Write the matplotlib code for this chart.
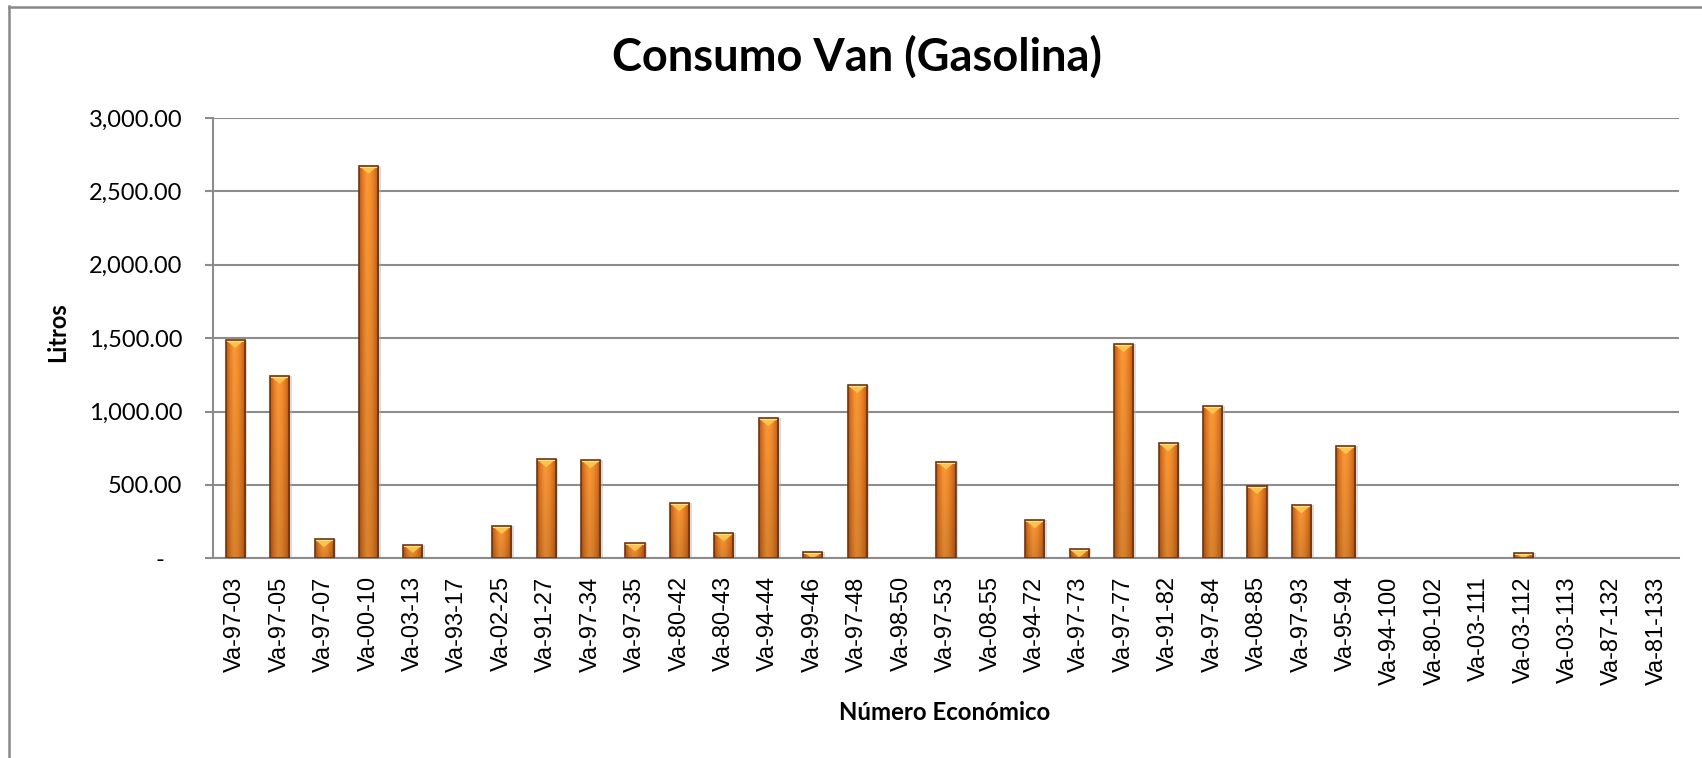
import numpy as np
import matplotlib
matplotlib.use("Agg")
import matplotlib.pyplot as plt
from matplotlib.colors import to_rgb
from matplotlib.patches import Polygon, Rectangle
from matplotlib.lines import Line2D
from matplotlib.ticker import FuncFormatter, MultipleLocator

# numero economico de cada van
vans = ["Va-97-03", "Va-97-05", "Va-97-07", "Va-00-10", "Va-03-13", "Va-93-17",
        "Va-02-25", "Va-91-27", "Va-97-34", "Va-97-35", "Va-80-42", "Va-80-43",
        "Va-94-44", "Va-99-46", "Va-97-48", "Va-98-50", "Va-97-53", "Va-08-55",
        "Va-94-72", "Va-97-73", "Va-97-77", "Va-91-82", "Va-97-84", "Va-08-85",
        "Va-97-93", "Va-95-94", "Va-94-100", "Va-80-102", "Va-03-111", "Va-03-112",
        "Va-03-113", "Va-87-132", "Va-81-133"]

# litros de gasolina
litros = [1488, 1243, 130, 2675, 91, 0,
          220, 675, 668, 102, 375, 170,
          954, 41, 1180, 0, 659, 0,
          259, 61, 1459, 784, 1036, 493,
          361, 764, 0, 0, 0, 36,
          0, 0, 0]

titulo = "Consumo Van (Gasolina)"
eje_x = "Número Económico"
eje_y = "Litros"

GRIS = "#8c8c8c"


def fmt_litros(v, pos):
    if abs(v) < 1e-9:
        return "-   "
    return "{:,.2f}".format(v)


def textura():
    # perfil horizontal del bisel (oscuro en bordes, claro al centro)
    cols = ["#b8591a", "#e97f25", "#fb9a3a", "#f7902f", "#e07720", "#b45519"]
    pos = np.linspace(0, 1, len(cols))
    xs = np.linspace(0, 1, 48)
    rgb = np.array([to_rgb(c) for c in cols])
    fila = np.stack([np.interp(xs, pos, rgb[:, k]) for k in range(3)], axis=-1)
    # fila 0 = arriba (origin upper): mas claro arriba, mas oscuro abajo
    ys = np.linspace(1.0, 0.86, 64).reshape(-1, 1, 1)
    return np.clip(fila[None, :, :] * ys, 0, 1)


def dibujaBarras(ax, x, y, ancho):
    img = textura()
    barras = ax.bar(x, y, width=ancho, color="none", edgecolor="#6e3510",
                    linewidth=1.2, zorder=4)
    upp = 3000 / 440.0  # litros por pixel (aprox)
    for b, v in zip(barras, y):
        if v <= 0:
            b.set_visible(False)
            continue
        x0 = b.get_x()
        x1 = x0 + b.get_width()
        sombra = Rectangle((x0 + 0.06, 0), x1 - x0, v, facecolor="#b0b0b0",
                           edgecolor="none", alpha=0.45, zorder=2.5)
        ax.add_patch(sombra)
        im = ax.imshow(img, extent=[x0, x1, 0, v], aspect="auto", origin="upper",
                       zorder=3, interpolation="bilinear")
        im.set_clip_path(b)
        h = min(8 * upp, v)
        tri = Polygon([[x0, v], [x1, v], [(x0 + x1) / 2, v - h]], closed=True,
                      facecolor="#fbc44a", edgecolor="none", zorder=3.5)
        ax.add_patch(tri)
        hb = min(2 * upp, v)
        banda = Polygon([[x0, v], [x1, v], [x1, v - hb], [x0, v - hb]],
                        closed=True, facecolor="#fde08a", edgecolor="none", zorder=3.6)
        ax.add_patch(banda)


def creaGrafica(nombre):
    fig = plt.figure(figsize=(17.02, 7.58), dpi=100)
    ax = fig.add_axes([213 / 1702, 1 - 558.3 / 758, (1679 - 213) / 1702, (558.3 - 118) / 758])

    x = np.arange(len(vans))
    dibujaBarras(ax, x, litros, 0.43)

    ax.set_xlim(-0.5, len(vans) - 0.5)
    ax.set_ylim(0, 3000)
    ax.yaxis.set_major_locator(MultipleLocator(500))
    ax.yaxis.set_major_formatter(FuncFormatter(fmt_litros))
    ax.grid(axis="y", color=GRIS, linewidth=1.5, zorder=1)
    ax.set_axisbelow(True)

    for s in ["top", "right"]:
        ax.spines[s].set_visible(False)
    for s in ["left", "bottom"]:
        ax.spines[s].set_color(GRIS)
        ax.spines[s].set_linewidth(1.5)

    ax.set_xticks(x)
    ax.set_xticklabels(vans, rotation=90, fontsize=17, family="Liberation Sans")
    ax.tick_params(axis="x", length=0, pad=13)
    ax.tick_params(axis="y", length=6, width=1.5, color=GRIS, pad=16, labelsize=17)
    for t in ax.get_yticklabels():
        t.set_family("Lato")

    fig.text(857 / 1702, 1 - 57 / 758, titulo, fontsize=32.5, fontweight="bold",
             family="Lato", ha="center", va="center")
    fig.text(945 / 1702, 1 - 713 / 758, eje_x, fontsize=17.3, fontweight="bold",
             family="Lato", ha="center", va="center")
    fig.text(58 / 1702, 1 - 332 / 758, eje_y, fontsize=17, fontweight="bold",
             family="Lato", ha="center", va="center", rotation=90)

    # marco del area del grafico
    fig.add_artist(Line2D([8.5 / 1702, 8.5 / 1702], [0, 1 - 6 / 758], color="#888888",
                          linewidth=1.8, transform=fig.transFigure))
    fig.add_artist(Line2D([8.5 / 1702, 1], [1 - 6.5 / 758, 1 - 6.5 / 758], color="#888888",
                          linewidth=1.8, transform=fig.transFigure))

    fig.savefig(nombre, dpi=100)


def main():
    creaGrafica("out.png")


if __name__ == "__main__":
    main()
